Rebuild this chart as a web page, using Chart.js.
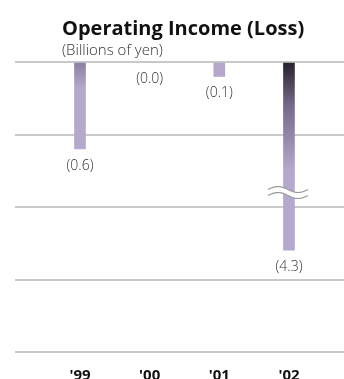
<!DOCTYPE html>
<html lang="en">
<head>
    <meta charset="UTF-8">
    <title>Operating Income (Loss)</title>
    <script src="https://cdn.jsdelivr.net/npm/chart.js"></script>
    <style>
        html, body { margin: 0; padding: 0; background: #fff; overflow: hidden; }
        .wrap { position: relative; width: 344px; height: 400px; }
        .head { position: absolute; left: 62px; top: 17px; color: #111; }
        .head h3 { margin: 0; font: bold 20px "Open Sans", sans-serif; line-height: 22px; }
        .head p { margin: 2px 0 0; font: 300 15px "Open Sans", sans-serif; line-height: 16px; color: #333; }
        canvas { position: absolute; left: 0; top: 0; }
    </style>
</head>
<body>

<div class="wrap">
    <canvas id="incomeChart" width="344" height="400"></canvas>
    <div class="head">
        <h3>Operating Income (Loss)</h3>
        <p>(Billions of yen)</p>
    </div>
</div>

<script>
// fiscal years and operating income, billions of yen
const YEARS = ["'99", "'00", "'01", "'02"];
const INCOME = [-0.6, 0.0, -0.1, -4.3];
const Y_TICKS = { min: -2.0, max: 0, step: 0.5 };

// below BREAK_AT the axis is compressed (the '02 bar is drawn broken)
const BREAK_AT = -0.9;
const SQUEEZE = 0.117;

const LAVENDER = '#b5a8cc';
// shade at the top of each bar, and how far down it fades
const TOP_SHADE = ['#8a7f9f', LAVENDER, '#aea1c7', '#27212d'];
const FADE_PX = [26, 1, 1, 108];

class BrokenLinearScale extends Chart.LinearScale {
    getPixelForValue(value) {
        if (value < BREAK_AT) value = BREAK_AT - (BREAK_AT - value) * SQUEEZE;
        return super.getPixelForValue(value);
    }
    // grid lines stay evenly spaced
    getPixelForTick(index) {
        const t = this.ticks[index];
        return t ? super.getPixelForValue(t.value) : null;
    }
}
BrokenLinearScale.id = 'brokenLinear';
BrokenLinearScale.defaults = Chart.LinearScale.defaults;
Chart.register(BrokenLinearScale);

function barFill(context) {
    const chart = context.chart;
    const i = context.dataIndex;
    if (!chart.chartArea || i === undefined) return LAVENDER;
    const y0 = chart.scales.y.getPixelForValue(0);
    const g = chart.ctx.createLinearGradient(0, y0, 0, y0 + FADE_PX[i]);
    g.addColorStop(0, TOP_SHADE[i]);
    if (i === 3) g.addColorStop(0.4, '#75698a');
    g.addColorStop(1, LAVENDER);
    return g;
}

// value labels under each bar, and the break mark on long bars
const barExtras = {
    id: 'barExtras',
    afterDatasetsDraw(chart) {
        const ctx = chart.ctx;
        const meta = chart.getDatasetMeta(0);
        const yScale = chart.scales.y;
        ctx.save();
        ctx.font = '300 14px "Open Sans", sans-serif';
        ctx.fillStyle = '#333';
        ctx.textAlign = 'center';
        ctx.textBaseline = 'middle';
        meta.data.forEach((bar, i) => {
            const v = INCOME[i];
            ctx.fillText('(' + Math.abs(v).toFixed(1) + ')', bar.x, bar.y + 17);

            if (v < BREAK_AT) {
                const by = yScale.getPixelForValue(BREAK_AT);
                const x0 = bar.x - 21, x1 = bar.x + 19;
                const wave = (x, off) => by + off + 3 * Math.sin((x - x0) / (x1 - x0) * Math.PI * 2 + Math.PI);
                // white gap between the two waves
                ctx.beginPath();
                for (let x = x0; x <= x1; x++) ctx.lineTo(x, wave(x, -3));
                for (let x = x1; x >= x0; x--) ctx.lineTo(x, wave(x, 3));
                ctx.closePath();
                ctx.fillStyle = '#fff';
                ctx.fill();
                ctx.strokeStyle = '#9a9a9a';
                ctx.lineWidth = 1.2;
                [-3, 3].forEach(off => {
                    ctx.beginPath();
                    for (let x = x0; x <= x1; x++) ctx.lineTo(x, wave(x, off));
                    ctx.stroke();
                });
                ctx.fillStyle = '#333';
            }
        });
        ctx.restore();
    }
};

new Chart(document.getElementById('incomeChart'), {
    type: 'bar',
    data: {
        datasets: [{
            data: INCOME.map((v, i) => ({ x: i, y: v })),
            backgroundColor: barFill,
            borderWidth: 0,
            barThickness: 11
        }]
    },
    options: {
        responsive: false,
        animation: false,
        layout: { padding: { left: 15, top: 62, right: 0, bottom: 0 } },
        plugins: {
            legend: { display: false },
            tooltip: { enabled: false }
        },
        scales: {
            x: {
                type: 'linear',
                offset: false,
                bounds: 'data',
                min: -0.933,
                max: 3.79,
                grid: { display: false, offset: false, drawTicks: false },
                border: { display: false },
                afterBuildTicks: scale => { scale.ticks = YEARS.map((_, i) => ({ value: i })); },
                ticks: {
                    padding: 15,
                    color: '#111',
                    font: { family: '"Open Sans", sans-serif', size: 15, weight: 'bold' },
                    callback: value => YEARS[value]
                }
            },
            y: {
                type: 'brokenLinear',
                min: Y_TICKS.min,
                max: Y_TICKS.max,
                grid: { color: '#c9c9c9', lineWidth: 2, drawTicks: false },
                border: { display: false },
                ticks: { display: false, stepSize: Y_TICKS.step }
            }
        }
    },
    plugins: [barExtras]
});
</script>

</body>
</html>
